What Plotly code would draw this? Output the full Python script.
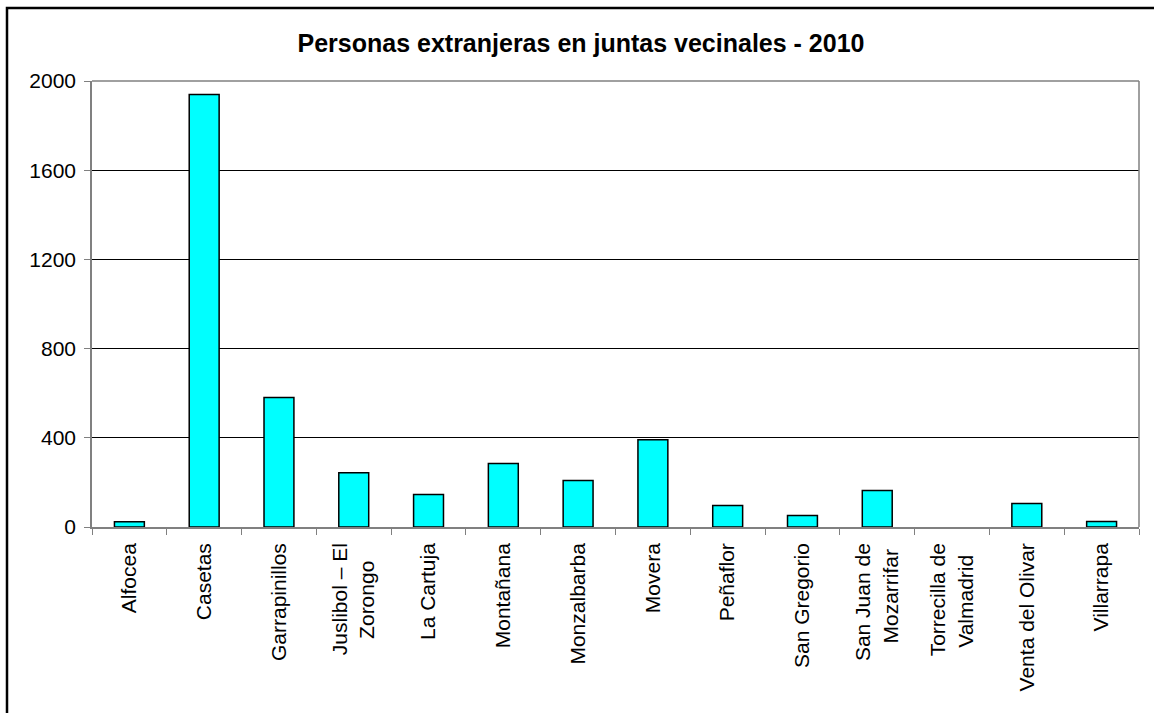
import plotly.graph_objects as go

categories = ["Alfocea", "Casetas", "Garrapinillos", "Juslibol – El<br>Zorongo\u00a0\u00a0\u00a0", "La Cartuja",
              "Montañana", "Monzalbarba", "Movera", "Peñaflor", "San Gregorio",
              "San Juan de<br>Mozarrifar\u00a0", "Torrecilla de<br>Valmadrid\u00a0\u00a0", "Venta del Olivar", "Villarrapa"]
values = [24, 1940, 581, 243, 146, 285, 209, 391, 96, 52, 164, 0, 105, 25]
y_ticks = [0, 400, 800, 1200, 1600, 2000]
title_text = "Personas extranjeras en juntas vecinales - 2010"

W, H = 1154, 713
L, R, T, B = 92, 15, 81, 186
pw, ph = W - L - R, H - T - B

def px_x(p):
    return (p - L) / pw

def px_y(p):
    return (H - B - p) / ph

fig = go.Figure(go.Bar(
    x=categories, y=values,
    marker=dict(color="#00FFFF",
                line=dict(color="black", width=[1.5 if v > 0 else 0 for v in values])),
))

fig.update_layout(
    width=W, height=H,
    margin=dict(l=L, r=R, t=T, b=B),
    paper_bgcolor="white", plot_bgcolor="white",
    font=dict(family="Liberation Sans, Arial", size=21, color="black"),
    bargap=0.6,
    showlegend=False,
    title=dict(text="<b>" + title_text + "</b>", x=581 / W, xanchor="center",
               y=1 - 43 / H, yanchor="middle", font=dict(size=25, color="black")),
    shapes=[
        dict(type="rect", xref="paper", yref="paper",
             x0=px_x(7), x1=px_x(1170), y0=px_y(730), y1=px_y(8),
             line=dict(color="black", width=2.5), fillcolor="rgba(0,0,0,0)", layer="below"),
        dict(type="line", xref="paper", yref="paper", x0=1, x1=1, y0=0, y1=1,
             line=dict(color="#808080", width=1.5)),
        dict(type="line", xref="paper", yref="paper", x0=0, x1=1, y0=1, y1=1,
             line=dict(color="#808080", width=1.5)),
    ],
)

fig.update_xaxes(
    type="category", tickangle=-90, tickson="boundaries",
    ticks="outside", ticklen=6, tickcolor="#808080",
    showline=True, linecolor="#808080", linewidth=1.5,
    showgrid=False, tickfont=dict(size=21), ticklabelstandoff=6,
)
fig.update_yaxes(
    range=[0, 2000], tickvals=y_ticks, ticks="outside", ticklen=6, tickcolor="#808080",
    showline=True, linecolor="#808080", linewidth=1.5,
    showgrid=True, gridcolor="black", gridwidth=1, zeroline=False,
    tickfont=dict(size=21), ticklabelstandoff=4,
)

fig.write_html("out.html", config={"displayModeBar": False},
               post_script="document.body.style.margin='0';document.body.style.overflow='hidden';")
